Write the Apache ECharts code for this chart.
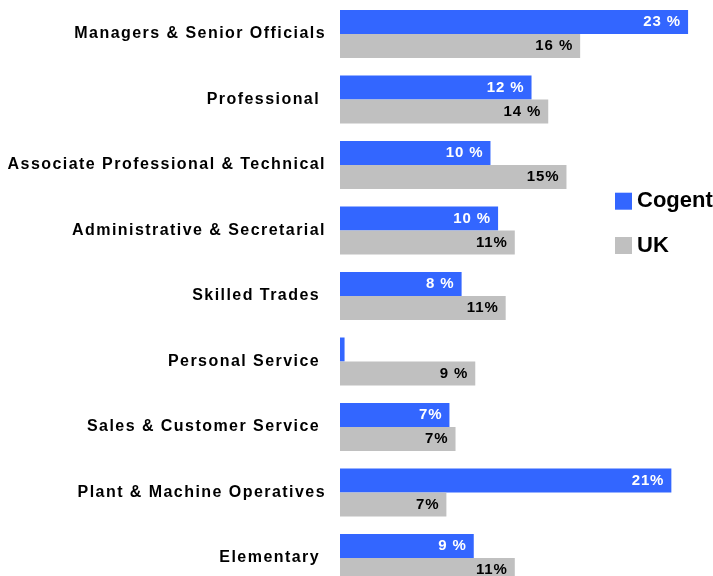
<!DOCTYPE html>
<html>
<head>
<meta charset="utf-8">
<script src="https://cdn.jsdelivr.net/npm/echarts@6/dist/echarts.min.js"></script>
<style>html,body{margin:0;padding:0;background:#fff}#c{width:713px;height:576px}</style>
</head>
<body>
<div id="c"></div>
<script>
const categories = [
  "Managers & Senior Officials",
  "Professional ",
  "Associate Professional & Technical",
  "Administrative & Secretarial",
  "Skilled Trades ",
  "Personal Service ",
  "Sales & Customer Service ",
  "Plant & Machine Operatives",
  "Elementary "
];
const seriesNames = ["Cogent", "UK"];
const cogentValues = [22.9, 12.6, 9.9, 10.4, 8.0, 0.3, 7.2, 21.8, 8.8];
const ukValues = [15.8, 13.7, 14.9, 11.5, 10.9, 8.9, 7.6, 7.0, 11.5];
const cogentLabels = ["23 %", "12 %", "10 %", "10 %", "8 %", "", "7%", "21%", "9 %"];
const ukLabels = ["16 %", "14 %", "15%", "11%", "11%", "9 %", "7%", "7%", "11%"];

// widen glyph spacing for the axis and bar labels, as in the reference's typesetting
(function () {
  const P = CanvasRenderingContext2D.prototype;
  if (!('letterSpacing' in P)) return;
  const spacingFor = f => {
    const m = /(\d+(?:\.\d+)?)px/.exec(f || '');
    const s = m ? parseFloat(m[1]) : 0;
    return s === 16 ? '1.45px' : s === 15 ? '0.9px' : '0px';
  };
  ['fillText', 'strokeText', 'measureText'].forEach(fn => {
    const orig = P[fn];
    P[fn] = function () {
      this.letterSpacing = spacingFor(this.font);
      return orig.apply(this, arguments);
    };
  });
})();

const font = "'Liberation Sans', Arial, Helvetica, sans-serif";
const chart = echarts.init(document.getElementById('c'), null, {renderer: 'canvas'});
chart.setOption({
  animation: false,
  backgroundColor: '#ffffff',
  grid: {left: 340, top: 1.25, width: 364.8, height: 589.5, containLabel: false, outerBoundsMode: 'none'},
  legend: {
    orient: 'vertical', left: 615, top: 190.2, padding: 0,
    itemWidth: 17, itemHeight: 17, itemGap: 22.3,
    icon: 'rect',
    textStyle: {fontFamily: font, fontWeight: 'bold', fontSize: 22, color: '#000'},
    data: seriesNames
  },
  xAxis: {type: 'value', min: 0, max: 24, show: false},
  yAxis: {
    type: 'category', data: categories, inverse: true,
    axisLine: {show: false}, axisTick: {show: false}, splitLine: {show: false},
    axisLabel: {margin: 14, padding: [3, 0, 0, 0], fontFamily: font, fontWeight: 'bold', fontSize: 16, color: '#000'}
  },
  series: [
    {
      name: seriesNames[0], type: 'bar', data: cogentValues, barWidth: 24, barGap: '0%',
      itemStyle: {color: '#3366FF'},
      label: {show: true, position: 'insideRight', distance: 7, color: '#fff',
        fontFamily: font, fontWeight: 'bold', fontSize: 15,
        formatter: p => cogentLabels[p.dataIndex]}
    },
    {
      name: seriesNames[1], type: 'bar', data: ukValues, barWidth: 24, barGap: '0%',
      itemStyle: {color: '#C0C0C0'},
      label: {show: true, position: 'insideRight', distance: 7, color: '#000',
        fontFamily: font, fontWeight: 'bold', fontSize: 15,
        formatter: p => ukLabels[p.dataIndex]}
    }
  ]
});
</script>
</body>
</html>
